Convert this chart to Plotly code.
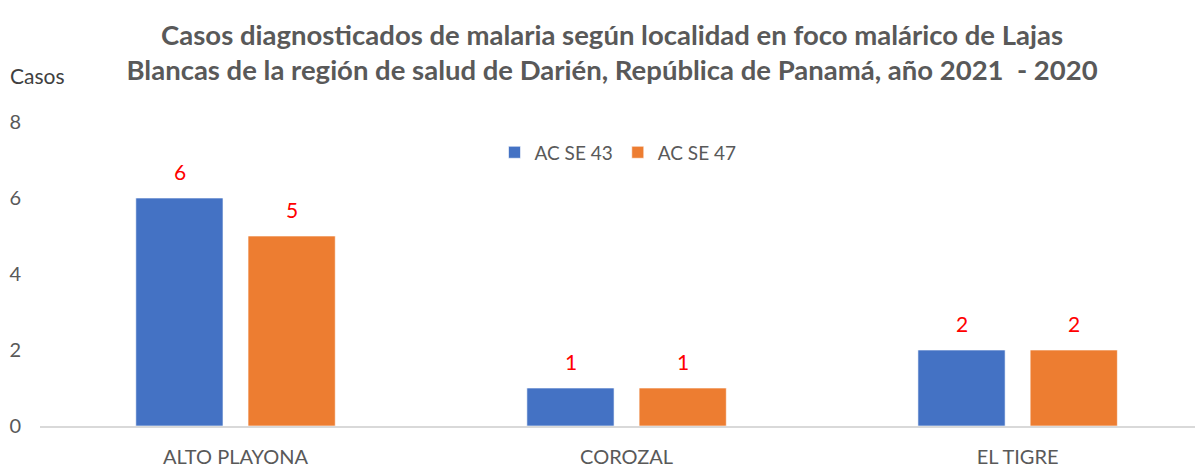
import plotly.graph_objects as go

categories = ["ALTO PLAYONA", "COROZAL", "EL TIGRE"]
series_names = ["AC SE 43", "AC SE 47"]
se43 = [6, 1, 2]
se47 = [5, 1, 2]
y_ticks = [0, 2, 4, 6, 8]

colors = ["#4472C4", "#ED7D31"]
FONT = "Lato"
GRAY = "#595959"

fig = go.Figure()
for name, vals, col in zip(series_names, [se43, se47], colors):
    fig.add_trace(go.Bar(
        x=categories, y=vals, name=name,
        marker=dict(color=col, line=dict(color="rgba(255,255,255,0.6)", width=1)),
        hoverinfo="skip",
    ))

# data labels placed above each bar
offsets = [-56, 56]
for vals, dx in zip([se43, se47], offsets):
    for c, v in zip(categories, vals):
        fig.add_annotation(x=c, y=v, xref="x", yref="y", text=str(v),
                           showarrow=False, xshift=dx, yshift=27,
                           font=dict(family=FONT, size=21, color="#FF0000"))

fig.add_annotation(text="Casos", xref="paper", yref="paper",
                   x=-0.0275, y=1.152, xanchor="left", yanchor="middle",
                   showarrow=False, font=dict(family=FONT, size=21, color="#404040"))

fig.update_layout(
    width=1195, height=460,
    paper_bgcolor="white", plot_bgcolor="white",
    margin=dict(l=32, r=0, t=114, b=42),
    barmode="group", bargap=0.426, bargroupgap=0.223,
    title=dict(
        text="Casos diagnosticados de malaria según localidad en foco malárico de Lajas<br>"
             "Blancas de la región de salud de Darién, República de Panamá, año 2021  - 2020",
        x=0.5055, xanchor="center", y=0.9206, yanchor="middle", automargin=False,
        font=dict(family=FONT, size=27.5, color=GRAY, weight="bold"),
    ),
    legend=dict(orientation="h", x=0.497, xanchor="center", y=0.9, yanchor="middle",
                font=dict(family=FONT, size=19, color=GRAY), bgcolor="rgba(0,0,0,0)",
                itemwidth=30),
    xaxis=dict(range=[-0.5, 2.474], showline=True, linecolor="#D9D9D9", linewidth=1.5,
               ticks="", tickfont=dict(family=FONT, size=20, color=GRAY),
               ticklabelstandoff=12, automargin=False,
               showgrid=False, fixedrange=True),
    yaxis=dict(range=[0, 8], tickvals=y_ticks, showgrid=False, zeroline=False,
               ticklabelstandoff=18, automargin=False,
               tickfont=dict(family=FONT, size=20, color=GRAY), fixedrange=True),
    showlegend=True,
)

fig.write_html("out.html")
